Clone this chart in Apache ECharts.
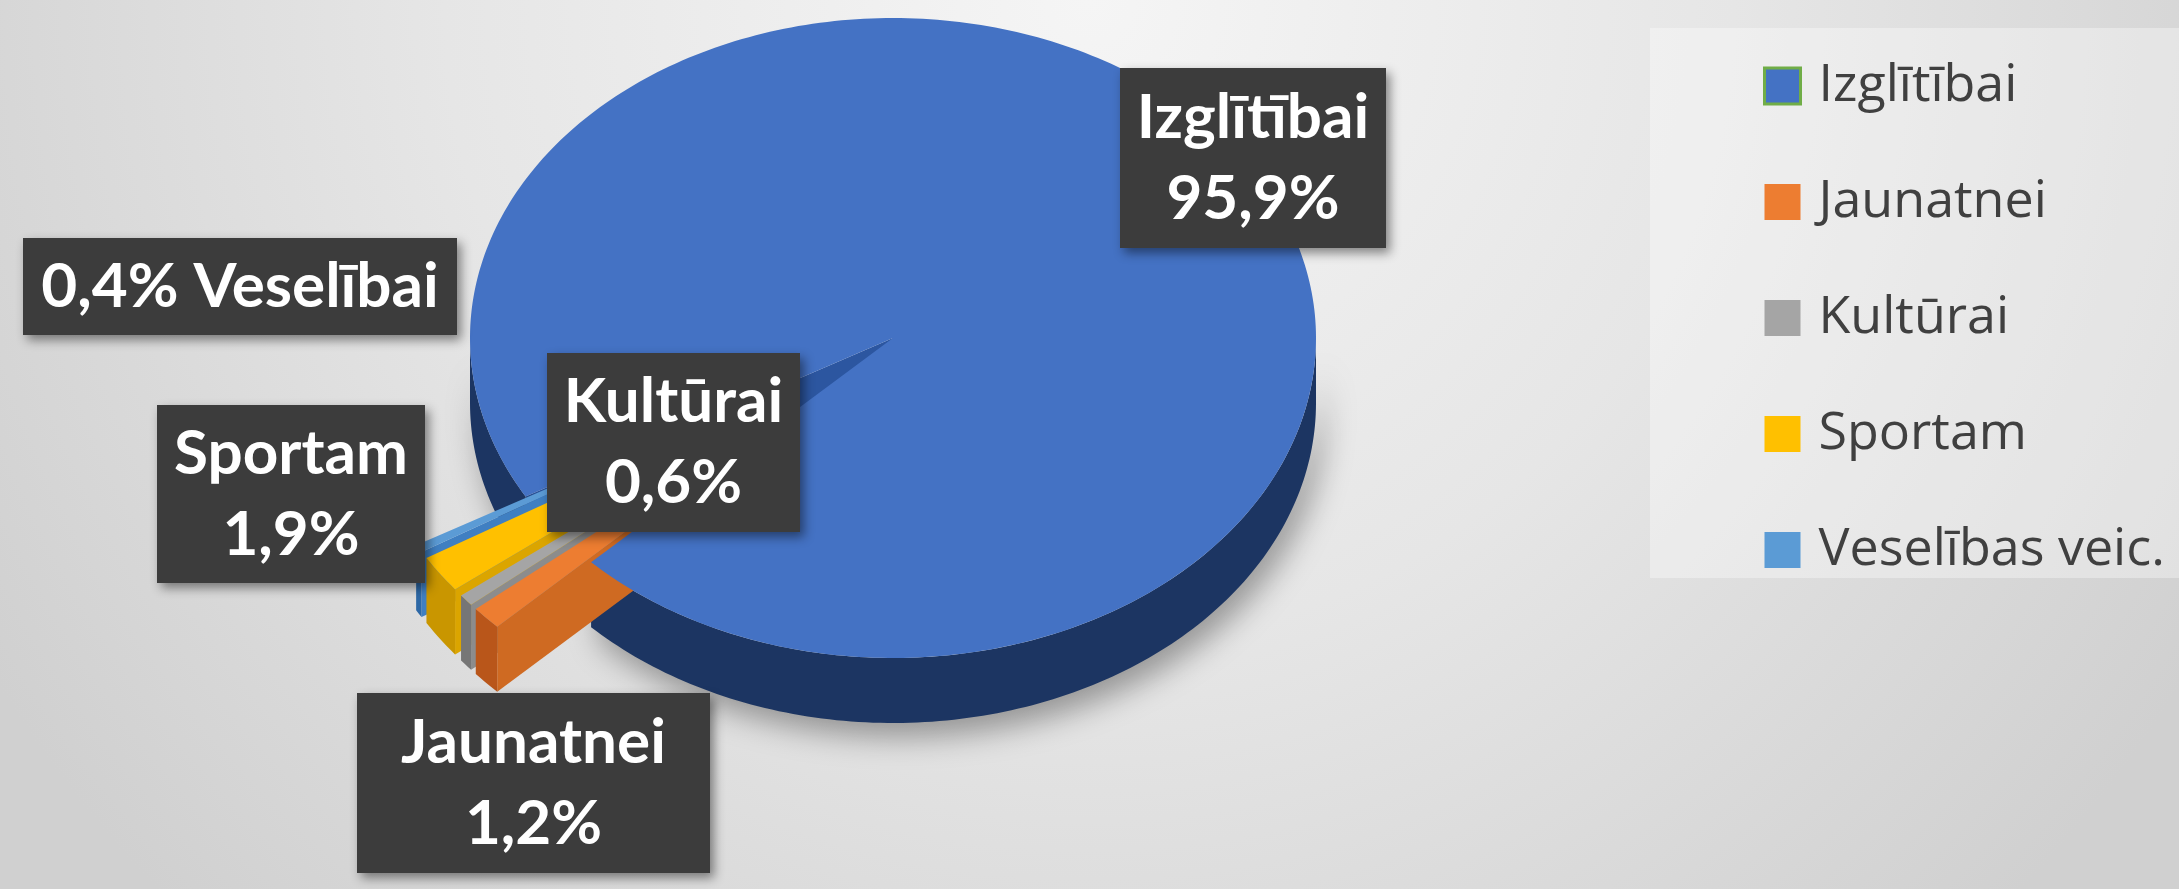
<!DOCTYPE html>
<html>
<head>
<meta charset="utf-8">
<script src="https://cdn.jsdelivr.net/npm/echarts@6/dist/echarts.min.js"></script>
<style>
  html, body { margin: 0; padding: 0; }
  #chart { width: 2179px; height: 889px; }
</style>
</head>
<body>
<div id="chart"></div>
<script>
// data
const categories = ['Izglītībai', 'Jaunatnei', 'Kultūrai', 'Sportam', 'Veselības veic.'];
const labelNames = ['Izglītībai', 'Jaunatnei', 'Kultūrai', 'Sportam', 'Veselībai'];
const shares = [95.9, 1.2, 0.6, 1.9, 0.4];

// look
const topColors = ['#4472c4', '#ed7d31', '#a5a5a5', '#ffc000', '#5b9bd5'];
const faceColors = ['#2c56a0', '#cf6a22', '#8c8c8c', '#dba500', '#3f7fc2'];
const wallColors = ['#1c3562', '#b9561a', '#767676', '#c99600', '#2d68a6'];
const explode = [0, 0.3, 0.3, 0.3, 0.3];
const drawOrder = [0, 4, 3, 2, 1]; // back to front
const labelBoxes = [[1120, 68, 266, 180], [357, 693, 353, 180], [547, 353, 253, 179], [157, 405, 268, 178], [23, 238, 434, 97]];
const inlineLabel = [false, false, false, false, true];

const CX = 893, CY = 338, RX = 423, RY = 320, DEPTH = 65, START = 209.7;
const total = shares.reduce((a, b) => a + b, 0);

function fmtPct(v) {
  return v.toFixed(1).replace('.', ',') + '%';
}

function pt(deg, r, ox, oy, dy) {
  const a = deg * Math.PI / 180;
  return [CX + ox + RX * r * Math.cos(a), CY + oy - RY * r * Math.sin(a) + dy];
}

function arc(s, e, ox, oy, dy) {
  const n = Math.max(2, Math.ceil(Math.abs(e - s)));
  const pts = [];
  for (let k = 0; k <= n; k++) pts.push(pt(s + (e - s) * k / n, 1, ox, oy, dy));
  return pts;
}

function frontParts(a0, a1) {
  const parts = [];
  for (let k = -2; k <= 2; k++) {
    const s = Math.max(a0, 180 + 360 * k), e = Math.min(a1, 360 + 360 * k);
    if (e > s) parts.push([s, e]);
  }
  return parts;
}

function renderSlice(i) {
  return function (params, api) {
    const value = api.value(0);
    let before = 0;
    for (let j = 0; j < i; j++) before += shares[j];
    const a1 = START - before / total * 360;
    const a0 = a1 - value / total * 360;
    const mid = (a0 + a1) / 2 * Math.PI / 180;
    const ox = RX * explode[i] * Math.cos(mid);
    const oy = -RY * explode[i] * Math.sin(mid);
    const order = drawOrder.indexOf(i);
    // big slice: sides at the very back, top above the small slices' sides
    const sideZ = i === 0 ? 1 : 10 + order * 5;
    const topZ = i === 0 ? 45 : 50 + order;
    const c = pt(0, 0, ox, oy, 0);
    const cb = pt(0, 0, ox, oy, DEPTH);
    const children = [];

    // radial side faces turned to the viewer
    [[a1, Math.cos(a1 * Math.PI / 180) < 0], [a0, Math.cos(a0 * Math.PI / 180) > 0]].forEach(function (f) {
      if (!f[1]) return;
      children.push({
        type: 'polygon', z2: sideZ,
        shape: { points: [c, pt(f[0], 1, ox, oy, 0), pt(f[0], 1, ox, oy, DEPTH), cb] },
        style: { fill: faceColors[i] }
      });
    });

    // outer wall (front half only)
    frontParts(a0, a1).forEach(function (p) {
      const top = arc(p[0], p[1], ox, oy, 0);
      const bottom = arc(p[1], p[0], ox, oy, DEPTH);
      const wall = {
        type: 'polygon', z2: sideZ + 1,
        shape: { points: top.concat(bottom) },
        style: { fill: wallColors[i] }
      };
      if (i === 0) {
        wall.style.shadowBlur = 30;
        wall.style.shadowColor = 'rgba(0,0,0,0.35)';
        wall.style.shadowOffsetX = 8;
        wall.style.shadowOffsetY = 14;
      }
      children.push(wall);
    });

    // top face
    children.push({
      type: 'polygon', z2: topZ,
      shape: { points: [c].concat(arc(a0, a1, ox, oy, 0)) },
      style: { fill: topColors[i] }
    });

    // data label
    const b = labelBoxes[i];
    const text = inlineLabel[i]
      ? fmtPct(value) + ' ' + labelNames[i]
      : labelNames[i] + '\n' + fmtPct(value);
    children.push({
      type: 'rect', z2: 100 + i * 2,
      shape: { x: b[0], y: b[1], width: b[2], height: b[3] },
      style: {
        fill: '#3c3c3c',
        shadowBlur: 10, shadowColor: 'rgba(0,0,0,0.45)', shadowOffsetX: 4, shadowOffsetY: 5
      }
    });
    children.push({
      type: 'text', z2: 101 + i * 2,
      x: b[0] + b[2] / 2, y: b[1] + b[3] / 2,
      style: {
        text: text,
        fill: '#ffffff',
        fontFamily: 'Lato', fontWeight: 'bold', fontSize: 62, lineHeight: 81,
        align: 'center', verticalAlign: 'middle',
        textAlign: 'center', textVerticalAlign: 'middle'
      }
    });

    return { type: 'group', children: children };
  };
}

const chart = echarts.init(document.getElementById('chart'));

chart.setOption({
  animation: false,
  backgroundColor: {
    type: 'radial', x: 0.5, y: 0.0, r: 1.45,
    colorStops: [
      { offset: 0, color: '#f5f5f5' },
      { offset: 0.5, color: '#e6e6e6' },
      { offset: 1, color: '#d0d0d0' }
    ]
  },
  legend: {
    orient: 'vertical',
    left: 1650,
    top: 28,
    padding: [32, 20, 2, 113],
    backgroundColor: 'rgba(255,255,255,0.35)',
    itemWidth: 36,
    itemHeight: 36,
    itemGap: 64,
    icon: 'rect',
    data: [
      { name: categories[0], itemStyle: { borderColor: '#70ad47', borderWidth: 3 } },
      categories[1], categories[2], categories[3], categories[4]
    ],
    textStyle: {
      fontFamily: 'Open Sans',
      fontSize: 52,
      lineHeight: 52,
      color: '#404040',
      padding: [0, 0, 0, 13]
    }
  },
  series: categories.map(function (name, i) {
    return {
      type: 'custom',
      name: name,
      coordinateSystem: 'none',
      silent: true,
      itemStyle: { color: topColors[i] },
      data: [[shares[i]]],
      renderItem: renderSlice(i)
    };
  })
});
</script>
</body>
</html>
